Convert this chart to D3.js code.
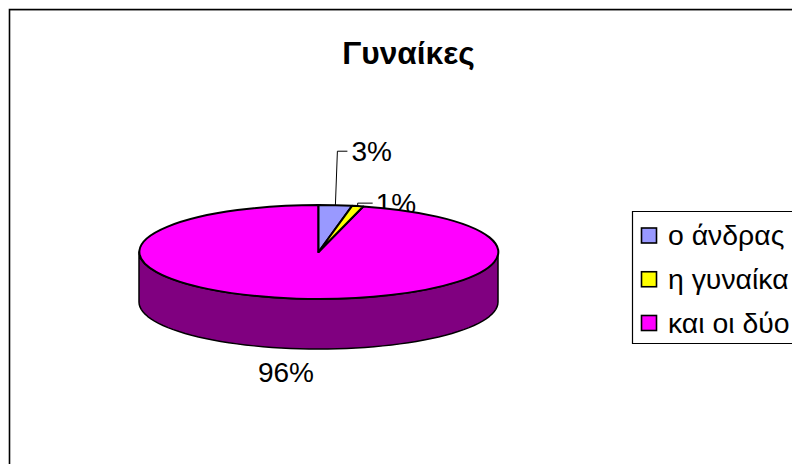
<!DOCTYPE html>
<html><head><meta charset="utf-8">
<script src="https://cdn.jsdelivr.net/npm/d3@7/dist/d3.min.js"></script>
<style>html,body{margin:0;padding:0;background:#fff;overflow:hidden}svg{display:block}text{font-family:"Liberation Sans",Arial,sans-serif;fill:#000}</style>
</head><body><svg id="c" width="792" height="464"></svg>
<script>
const categories = ["ο άνδρας", "η γυναίκα", "και οι δύο"];
const values = [3, 1, 96];
const valueLabels = ["3%", "1%", "96%"];
const colors = ["#9999FF", "#FFFF00", "#FF00FF"];
const title = "Γυναίκες";

const svg = d3.select("#c");
const cx = 318.5, cy = 252, rx = 179.5, ry = 47, depth = 50;
const px = d3.scaleLinear().domain([-1, 1]).range([cx - rx, cx + rx]);
const py = d3.scaleLinear().domain([-1, 1]).range([cy - ry, cy + ry]);
const pt = a => [px(Math.sin(a)), py(-Math.cos(a))];

svg.append("rect").attr("x", 10).attr("y", 10).attr("width", 782).attr("height", 1).attr("fill", "#c0c0c0");
svg.append("path").attr("d", "M9.5,464V9.5H792").attr("fill", "none").attr("stroke", "#000").attr("stroke-width", 1.6);

svg.append("text").attr("x", 408.5).attr("y", 64).attr("text-anchor", "middle")
  .attr("font-size", 31.7).attr("font-weight", "bold").text(title);

const arcs = d3.pie().sort(null)(values);
const mid = d => (d.startAngle + d.endAngle) / 2;
const leaders = [[[2, -54], [12, -54]], [[0, -3], [15, -3]]];
const labelDx = [4, 3];
arcs.slice(0, 2).forEach((d, i) => {
  const p = pt(mid(d));
  const pts = [p, ...leaders[i].map(o => [p[0] + o[0], p[1] + o[1]])];
  svg.append("path").attr("d", d3.line()(pts)).attr("fill", "none").attr("stroke", "#000").attr("stroke-width", 1);
  const end = pts[pts.length - 1];
  svg.append("text").attr("x", end[0] + labelDx[i]).attr("y", end[1] + 10).attr("font-size", 28).text(valueLabels[i]);
});

const lower = d3.range(90, 271, 3).map(a => pt(a * Math.PI / 180));
const wall = lower.concat(lower.slice().reverse().map(p => [p[0], p[1] + depth]));
svg.append("path").attr("d", d3.line()(wall) + "Z").attr("fill", "#800080").attr("stroke", "#000").attr("stroke-width", 1.5).attr("stroke-linejoin", "round");

const g = svg.append("g").attr("transform", `translate(${cx},${cy}) scale(${rx},${ry})`);
const arcGen = d3.arc().innerRadius(0).outerRadius(1);
g.selectAll("path").data([arcs[2], arcs[0], arcs[1]]).join("path")
  .attr("d", arcGen)
  .attr("fill", d => colors[d.index])
  .attr("stroke", "#000").attr("stroke-width", 2)
  .attr("stroke-linejoin", "round")
  .attr("vector-effect", "non-scaling-stroke");

svg.append("text").attr("x", 286).attr("y", 382).attr("text-anchor", "middle").attr("font-size", 28).text(valueLabels[2]);

const ly = d3.scalePoint().domain(categories).range([235.5, 323]);
svg.append("path").attr("d", "M792,211.5H632.5V343.5H792").attr("fill", "#fff").attr("stroke", "#000").attr("stroke-width", 1.2);
const item = svg.selectAll("g.l").data(categories).join("g").attr("class", "l");
item.append("rect").attr("x", 641.5).attr("y", d => ly(d) - 7.5).attr("width", 15).attr("height", 15)
  .attr("fill", (d, i) => colors[i]).attr("stroke", "#000").attr("stroke-width", 1.6);
item.append("text").attr("x", 668).attr("y", d => ly(d) + 9.5).attr("font-size", 28.4).text(d => d);
</script></body></html>
